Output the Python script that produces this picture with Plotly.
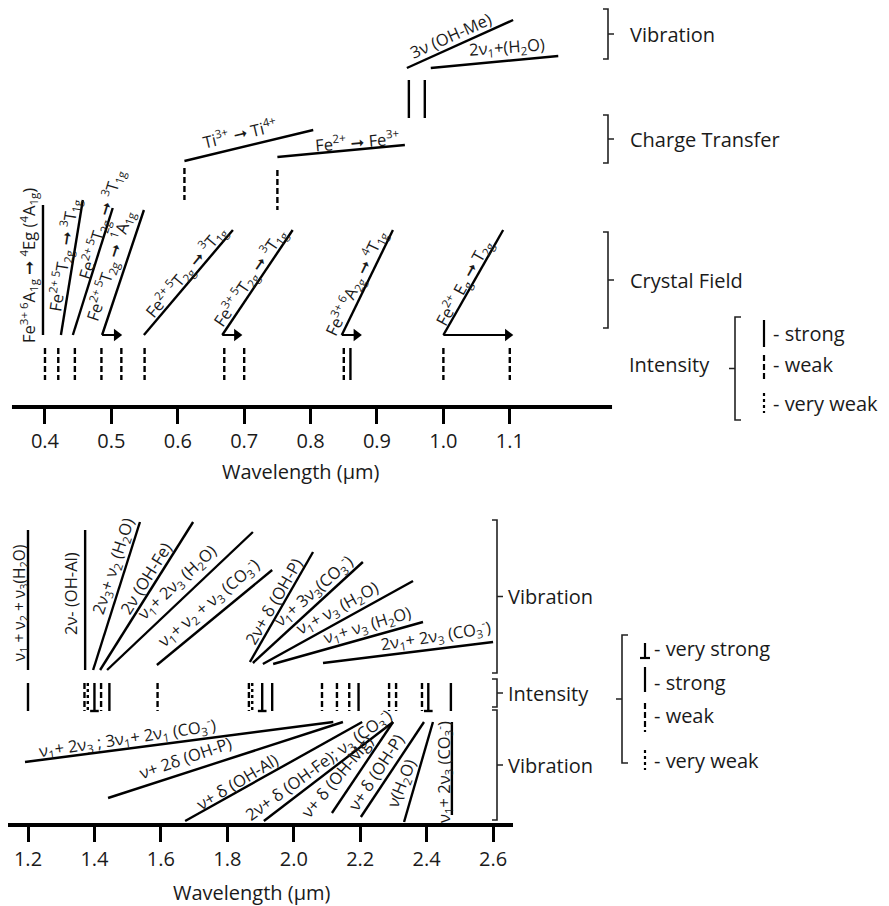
import plotly.graph_objects as go

# page body has an 8px margin: the figure is drawn 8px in from the top-left
OFF = 8
W, H = 889 - OFF, 906 - OFF
FONT = "Open Sans, sans-serif"
INK = "#1a1a1a"
ARW = "➞"

# ---------------- data ----------------
top_ticks = [0.4, 0.5, 0.6, 0.7, 0.8, 0.9, 1.0, 1.1]
bot_ticks = [1.2, 1.4, 1.6, 1.8, 2.0, 2.2, 2.4, 2.6]

# top panel: absorption features (um) and intensity class
top_int_um = [0.40, 0.42, 0.445, 0.485, 0.515, 0.55, 0.67, 0.70, 0.85, 0.86, 1.00, 1.10]
top_int_kind = ["weak", "weak", "weak", "weak", "weak", "weak", "weak", "weak",
                "weak", "strong", "weak", "weak"]

# crystal field transitions
cf_um = [0.397, 0.424, 0.442, 0.486, 0.549, 0.667, 0.847, 1.000]
cf_top_um = [0.397, 0.457, 0.502, 0.549, 0.683, 0.773, 0.924, 1.090]
cf_arrow_um = [None, None, None, 0.516, None, 0.697, 0.877, 1.105]
cf_labels = [
    f"Fe<sup>3+ 6</sup>A<sub>1g</sub> {ARW} <sup>4</sup>Eg (<sup>4</sup>A<sub>1g</sub>)",
    f"Fe<sup>2+ 5</sup>T<sub>2g</sub> {ARW} <sup>3</sup>T<sub>1g</sub>",
    f"Fe<sup>2+ 5</sup>T<sub>2g</sub> {ARW} <sup>3</sup>T<sub>1g</sub>",
    f"Fe<sup>2+ 5</sup>T<sub>2g</sub> {ARW} <sup>1</sup>A<sub>1g</sub>",
    f"Fe<sup>2+ 5</sup>T<sub>2g</sub> {ARW} <sup>3</sup>T<sub>1g</sub>",
    f"Fe<sup>3+ 5</sup>T<sub>2g</sub> {ARW} <sup>3</sup>T<sub>1g</sub>",
    f"Fe<sup>3+ 6</sup>A<sub>2g</sub> {ARW} <sup>4</sup>T<sub>1g</sub>",
    f"Fe<sup>2+</sup> E<sub>g</sub> {ARW} T<sub>2g</sub>",
]
cf_label_um = [0.3744, 0.4271, 0.4828, 0.4964, 0.6108, 0.7072, 0.8669, 1.0295]

# charge transfer
ct_um = [0.61, 0.75]
ct_end_um = [0.804, 0.942]
ct_labels = [f"Ti<sup>3+</sup> {ARW} Ti<sup>4+</sup>", f"Fe<sup>2+</sup> {ARW} Fe<sup>3+</sup>"]
ct_label_um = [0.694, 0.871]

# top vibration
vt_um = [0.948, 0.972]
vt_start_um = [0.945, 0.981]
vt_end_um = [1.105, 1.173]
vt_labels = ["3ν (OH-Me)", "2ν<sub>1</sub>+(H<sub>2</sub>O)"]
vt_label_um = [1.010, 1.0958]

# bottom panel intensity
bot_int_um = [1.20, 1.37, 1.38, 1.40, 1.42, 1.445, 1.59, 1.865, 1.875, 1.905, 1.935,
              2.085, 2.13, 2.167, 2.195, 2.287, 2.308, 2.386, 2.405, 2.473]
bot_int_kind = ["strong", "weak", "very weak", "very strong", "weak", "strong", "weak",
                "weak", "very weak", "very strong", "strong",
                "weak", "weak", "weak", "strong", "weak", "weak", "weak", "very strong", "strong"]

# bottom panel upper vibration labels
up_um = [1.20, 1.372, 1.396, 1.417, 1.438, 1.588, 1.868, 1.877, 1.907, 1.938, 2.088]
up_top_um = [1.20, 1.372, 1.537, 1.697, 1.877, 1.935, 2.058, 2.208, 2.359, 2.389, 2.600]
up_labels = [
    "ν<sub>1</sub> + ν<sub>2</sub> + ν<sub>3</sub>(H<sub>2</sub>O)",
    "2ν- (OH-Al)",
    "2ν<sub>3</sub>+ ν<sub>2</sub> (H<sub>2</sub>O)",
    "2ν (OH-Fe)",
    "ν<sub>1</sub>+ 2ν<sub>3</sub> (H<sub>2</sub>O)",
    "ν<sub>1</sub>+ ν<sub>2</sub> + ν<sub>3</sub> (CO<sub>3</sub><sup>-</sup>)",
    "2ν+ δ (OH-P)",
    "ν<sub>1</sub>+ 3ν<sub>3</sub>(CO<sub>3</sub><sup>-</sup>)",
    "ν<sub>1</sub>+ ν<sub>3</sub> (H<sub>2</sub>O)",
    "ν<sub>1</sub>+ ν<sub>3</sub> (H<sub>2</sub>O)",
    "2ν<sub>1</sub>+ 2ν<sub>3</sub> (CO<sub>3</sub><sup>-</sup>)",
]
up_label_um = [1.1735, 1.3264, 1.4559, 1.5522, 1.6485, 1.7418, 1.9375, 2.058, 2.1302, 2.2205, 2.4252]

# bottom panel lower vibration labels
lo_um = [2.119, 2.148, 2.206, 2.299, 2.299, 2.392, 2.419, 2.476]
lo_far_um = [1.191, 1.441, 1.673, 1.910, 2.115, 2.202, 2.332, 2.476]
lo_labels = [
    "ν<sub>1</sub>+ 2ν<sub>3</sub> ; 3ν<sub>1</sub>+ 2ν<sub>1</sub> (CO<sub>3</sub><sup>-</sup>)",
    "ν+ 2δ (OH-P)",
    "ν+ δ (OH-Al)",
    "2ν+ δ (OH-Fe); ν<sub>3</sub> (CO<sub>3</sub><sup>-</sup>)",
    "ν+ δ (OH-Mg)",
    "ν+ δ (OH-P)",
    "ν(H<sub>2</sub>O)",
    "ν<sub>1</sub>+ 2ν<sub>3</sub> (CO<sub>3</sub><sup>-</sup>)",
]
lo_label_um = [1.5010, 1.6726, 1.8292, 2.074, 2.128, 2.245, 2.324, 2.4493]

# ---------------- layout / styles ----------------
# axis ranges chosen so the full figure width maps onto the reference pixel columns
TOP_RANGE = [0.3443, 1.6711]
BOT_RANGE = [1.1398, 3.7918]
Y_TOP_AXIS, Y_BOT_AXIS = 407, 825
LBL = 16.5

DASH = {"strong": "solid", "very strong": "solid", "weak": "6px,3px", "very weak": "3px,3px"}
LW = 2.4

fig = go.Figure()


def seg(xa, xs, ys, dash="solid", width=LW):
    fig.add_trace(go.Scatter(x=xs, y=ys, mode="lines", xaxis=xa, yaxis="y",
                             line=dict(color="black", width=width, dash=dash),
                             hoverinfo="skip", showlegend=False))


def label(xa, x, y, text, angle, size=LBL):
    fig.add_annotation(x=x, y=y, xref=xa, yref="y", text=text, textangle=angle,
                       showarrow=False, xanchor="center", yanchor="middle",
                       font=dict(family=FONT, size=size, color=INK))


def intensity(xa, x, y0, y1, kind, foot):
    seg(xa, [x, x], [y0, y1], DASH[kind])
    if kind == "very strong":
        seg(xa, [x - foot, x + foot], [y1, y1], "solid")


# axis lines
seg("x", [0.3503, 1.254], [Y_TOP_AXIS, Y_TOP_AXIS], width=4)
seg("x2", [1.1308, 2.66], [Y_BOT_AXIS, Y_BOT_AXIS], width=4)

# ---- top panel ----
for x, k in zip(top_int_um, top_int_kind):
    intensity("x", x, 348, 380, k, 0.006)

cf_top_y = [205, 200, 208, 210, 230, 230, 230, 230]
cf_angles = [-90, -81, -73, -72, -50, -56, -64, -61]
cf_label_y = [265, 255, 224, 265, 271, 277, 282, 282]
for i in range(len(cf_um)):
    seg("x", [cf_um[i], cf_top_um[i]], [335, cf_top_y[i]])
    if cf_arrow_um[i] is not None:
        tip = cf_arrow_um[i]
        seg("x", [cf_um[i], tip - 0.008], [335, 335], width=2)
        fig.add_trace(go.Scatter(x=[tip - 0.008], y=[335], mode="markers", xaxis="x", yaxis="y",
                                 marker=dict(symbol="triangle-right", size=11, color="black"),
                                 hoverinfo="skip", showlegend=False))
    label("x", cf_label_um[i], cf_label_y[i], cf_labels[i], cf_angles[i])

ct_y0 = [168, 170]
ct_y1 = [200, 210]
ct_ls = [161, 157]
ct_le = [130, 145]
ct_ang = [-13.5, -5]
ct_ly = [133, 141]
for i in range(2):
    intensity("x", ct_um[i], ct_y0[i], ct_y1[i], "weak", 0.006)
    seg("x", [ct_um[i], ct_end_um[i]], [ct_ls[i], ct_le[i]])
    label("x", ct_label_um[i], ct_ly[i], ct_labels[i], ct_ang[i])

vt_le = [20, 56]
vt_ang = [-24, -4]
vt_ly = [35, 47]
for i in range(2):
    intensity("x", vt_um[i], 80, 118, "strong", 0.006)
    seg("x", [vt_start_um[i], vt_end_um[i]], [68, vt_le[i]])
    label("x", vt_label_um[i], vt_ly[i], vt_labels[i], vt_ang[i])

# ---- bottom panel ----
for x, k in zip(bot_int_um, bot_int_kind):
    intensity("x2", x, 683, 711, k, 0.013)

up_y0 = [670, 670, 670, 670, 670, 665, 662, 663, 664, 664, 663]
up_y1 = [530, 530, 522, 522, 532, 570, 552, 562, 581, 622, 642]
up_ang = [-90, -90, -72, -58, -43, -40, -60, -41, -29, -17, -9]
up_ly = [603, 593, 566, 578, 582, 602, 601, 590, 608, 625, 635]
up_size = [15.5] + [LBL] * 10
for i in range(len(up_um)):
    seg("x2", [up_um[i], up_top_um[i]], [up_y0[i], up_y1[i]])
    label("x2", up_label_um[i], up_ly[i], up_labels[i], up_ang[i], up_size[i])

lo_yfar = [762, 798, 821, 821, 813, 817, 822, 815]
lo_ang = [-8.5, -19, -31, -36, -50, -57, -68, -90]
lo_ly = [737, 757, 781, 764, 776, 772, 783, 772]
for i in range(len(lo_um)):
    seg("x2", [lo_far_um[i], lo_um[i]], [lo_yfar[i], 722])
    label("x2", lo_label_um[i], lo_ly[i], lo_labels[i], lo_ang[i])

# ---- group brackets and legends (paper x, pixel-row y) ----
shapes = []


def px(xpx):
    return (xpx - OFF) / W


def line_path(d, w=1.6):
    shapes.append(dict(type="path", path=d, xref="paper", yref="y",
                       line=dict(color="#222", width=w)))


def curly(xpx, y0, y1):
    x, a, b = px(xpx), px(xpx - 5), px(xpx + 6)
    m = (y0 + y1) / 2
    line_path(f"M{a},{y0} L{x},{y0} L{x},{y1} L{a},{y1} M{x},{m} L{b},{m}")


def square(xpx, y0, y1):
    x, a, b = px(xpx), px(xpx + 6), px(xpx - 6)
    m = (y0 + y1) / 2
    line_path(f"M{a},{y0} L{x},{y0} L{x},{y1} L{a},{y1} M{x},{m} L{b},{m}")


def side_text(xpx, y, text, anchor="left", size=20):
    fig.add_annotation(x=px(xpx), y=y, xref="paper", yref="y", text=text, showarrow=False,
                       xanchor=anchor, yanchor="middle", font=dict(family=FONT, size=size, color=INK))


def legend_mark(xpx, y0, y1, kind):
    shapes.append(dict(type="line", xref="paper", yref="y", x0=px(xpx), x1=px(xpx), y0=y0, y1=y1,
                       line=dict(color="black", width=2.2, dash=DASH[kind])))
    if kind == "very strong":
        shapes.append(dict(type="line", xref="paper", yref="y", x0=px(xpx - 5), x1=px(xpx + 5),
                           y0=y1, y1=y1, line=dict(color="black", width=2.2)))


for (y0, y1, t) in [(9, 59, "Vibration"), (115, 163, "Charge Transfer"), (232, 328, "Crystal Field")]:
    curly(608, y0, y1)
    side_text(628, (y0 + y1) / 2, t)

side_text(712, 364, "Intensity", anchor="right")
square(735, 317, 420)
for (y0, y1, k, t, ty) in [(320, 347, "strong", "- strong", 333),
                           (355, 381, "weak", "- weak", 364),
                           (393, 413, "very weak", "- very weak", 403)]:
    legend_mark(764, y0, y1, k)
    side_text(771, ty, t)

for (y0, y1, t) in [(520, 673, "Vibration"), (679, 707, "Intensity"), (710, 820, "Vibration")]:
    curly(497, y0, y1)
    side_text(506, (y0 + y1) / 2, t)

square(622, 635, 763)
for (y0, y1, k, t, ty) in [(643, 658, "very strong", "- very strong", 648),
                           (667, 692, "strong", "- strong", 682),
                           (703, 732, "weak", "- weak", 715),
                           (750, 770, "very weak", "- very weak", 760)]:
    legend_mark(645, y0, y1, k)
    side_text(652, ty, t)

# axis titles
fig.add_annotation(x=0.785, y=471, xref="x", yref="y", text="Wavelength (µm)", showarrow=False,
                   font=dict(family=FONT, size=20, color=INK))
fig.add_annotation(x=1.874, y=892, xref="x2", yref="y", text="Wavelength (µm)", showarrow=False,
                   font=dict(family=FONT, size=20, color=INK))

axis_common = dict(showgrid=False, zeroline=False, showline=False, ticks="outside",
                   ticklen=16, tickwidth=2.5, tickcolor="black", anchor="free",
                   tickfont=dict(family=FONT, size=20, color=INK), domain=[0, 1],
                   tickformat=".1f")
fig.update_layout(
    width=W, height=H, margin=dict(l=0, r=0, t=0, b=0),
    paper_bgcolor="white", plot_bgcolor="rgba(0,0,0,0)", showlegend=False,
    xaxis=dict(range=TOP_RANGE, tickvals=top_ticks, position=1 - (Y_TOP_AXIS - OFF) / H, **axis_common),
    xaxis2=dict(range=BOT_RANGE, tickvals=bot_ticks, position=1 - (Y_BOT_AXIS - OFF) / H, **axis_common),
    yaxis=dict(range=[906, OFF], domain=[0, 1], visible=False),
    shapes=shapes,
)

fig.write_html("out.html")
